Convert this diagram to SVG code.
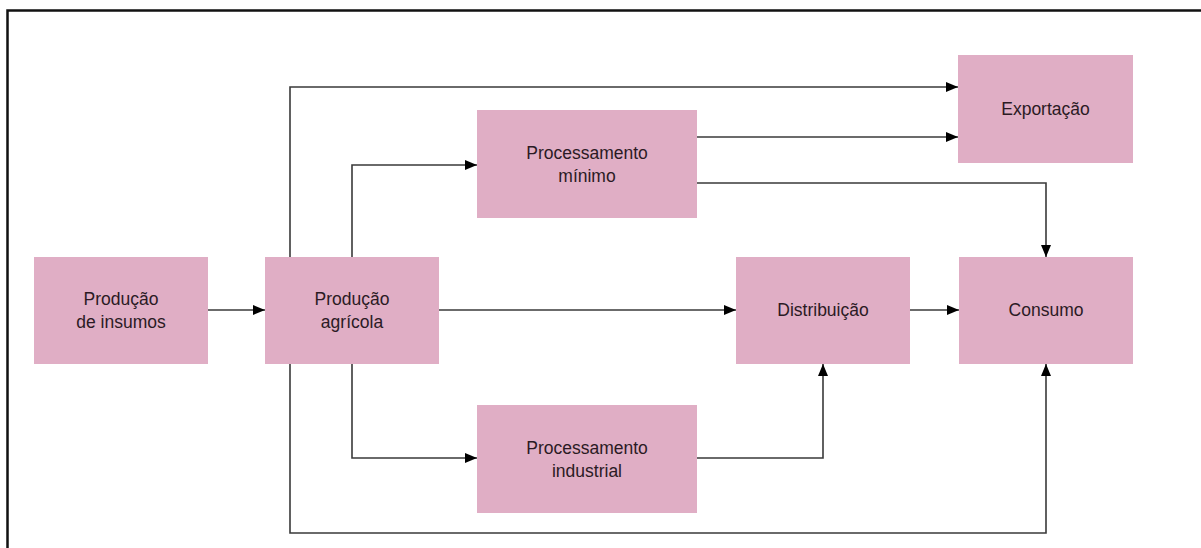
<svg xmlns="http://www.w3.org/2000/svg" width="1201" height="548" viewBox="0 0 1201 548">
  <style>
    .box { fill: #e0aec5; }
    .lbl { font-family: "Liberation Sans", Arial, sans-serif; font-size: 17.5px; fill: #2b1a24; text-anchor: middle; }
    .wire { fill: none; stroke: #3a3a3a; stroke-width: 1.6; }
    .frame { fill: none; stroke: #111; stroke-width: 2.5; }
  </style>
  <defs>
    <marker id="arrow" viewBox="0 0 12 10" refX="12" refY="5" markerWidth="12" markerHeight="10" markerUnits="userSpaceOnUse" orient="auto">
      <path d="M0,0 L12,5 L0,10 Z" fill="#000"/>
    </marker>
  </defs>
  <rect width="1201" height="548" fill="#fff"/>
  <path class="frame" d="M7.5,548 V10.5 H1201"/>

  <g id="connectors">
    <path class="wire" marker-end="url(#arrow)" d="M208,310 H265"/>
    <path class="wire" marker-end="url(#arrow)" d="M439,310 H736"/>
    <path class="wire" marker-end="url(#arrow)" d="M910,310 H959"/>
    <path class="wire" marker-end="url(#arrow)" d="M290,257 V87 H958"/>
    <path class="wire" marker-end="url(#arrow)" d="M352,257 V165 H477"/>
    <path class="wire" marker-end="url(#arrow)" d="M697,137 H958"/>
    <path class="wire" marker-end="url(#arrow)" d="M697,183 H1046 V257"/>
    <path class="wire" marker-end="url(#arrow)" d="M352,364 V458 H477"/>
    <path class="wire" marker-end="url(#arrow)" d="M697,458 H823 V364"/>
    <path class="wire" marker-end="url(#arrow)" d="M290,364 V533 H1046 V364"/>
  </g>

  <g id="producao-insumos">
    <rect class="box" x="34" y="257" width="174" height="107"/>
    <text class="lbl" x="121" y="305">Produção</text>
    <text class="lbl" x="121" y="328">de insumos</text>
  </g>
  <g id="producao-agricola">
    <rect class="box" x="265" y="257" width="174" height="107"/>
    <text class="lbl" x="352" y="305">Produção</text>
    <text class="lbl" x="352" y="328">agrícola</text>
  </g>
  <g id="processamento-minimo">
    <rect class="box" x="477" y="110" width="220" height="108"/>
    <text class="lbl" x="587" y="159">Processamento</text>
    <text class="lbl" x="587" y="182">mínimo</text>
  </g>
  <g id="exportacao">
    <rect class="box" x="958" y="55" width="175" height="108"/>
    <text class="lbl" x="1045.500" y="115">Exportação</text>
  </g>
  <g id="distribuicao">
    <rect class="box" x="736" y="257" width="174" height="107"/>
    <text class="lbl" x="823" y="316">Distribuição</text>
  </g>
  <g id="consumo">
    <rect class="box" x="959" y="257" width="174" height="107"/>
    <text class="lbl" x="1046" y="316">Consumo</text>
  </g>
  <g id="processamento-industrial">
    <rect class="box" x="477" y="405" width="220" height="108"/>
    <text class="lbl" x="587" y="454">Processamento</text>
    <text class="lbl" x="587" y="477">industrial</text>
  </g>
</svg>
